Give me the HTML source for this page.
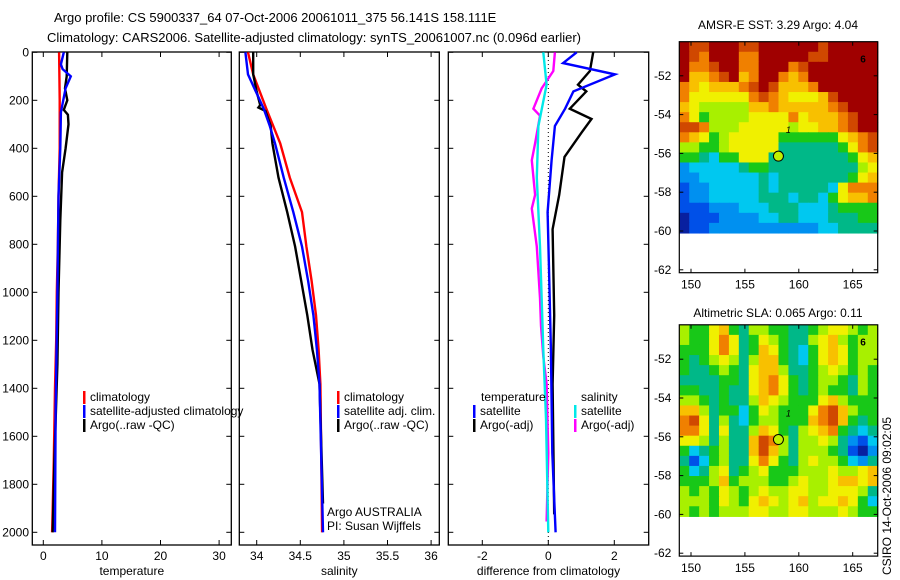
<!DOCTYPE html>
<html><head><meta charset="utf-8">
<style>
html,body{margin:0;padding:0;background:#fff;}
svg{display:block;font-family:"Liberation Sans",sans-serif;}
</style></head>
<body>
<svg id="c" width="900" height="580" viewBox="0 0 900 580" xmlns="http://www.w3.org/2000/svg">
<rect width="900" height="580" fill="#fff"/>
<text x="54" y="22" font-size="13">Argo profile: CS 5900337_64 07-Oct-2006 20061011_375 56.141S 158.111E</text>
<text x="47" y="42" font-size="13">Climatology: CARS2006. Satellite-adjusted climatology: synTS_20061007.nc (0.096d earlier)</text>
<text x="778" y="29" font-size="12" text-anchor="middle">AMSR-E SST: 3.29 Argo: 4.04</text>
<text x="778" y="317" font-size="12" text-anchor="middle">Altimetric SLA: 0.065 Argo: 0.11</text>
<text transform="translate(891,575) rotate(-90)" font-size="12">CSIRO 14-Oct-2006 09:02:05</text>
<g id="plots"></g>
</svg>
<script>
// ---------- data ----------
const depthTicks = [0,200,400,600,800,1000,1200,1400,1600,1800,2000];
const tempTicks = [0,10,20,30];
const salTicks = [34,34.5,35,35.5,36];
const salTickLabels = ["34","34.5","35","35.5","36"];
const diffTicks = [-2,0,2];
// temperature panel
const tClimDepth = [0,200,400,600,800,1000,1200,1400,1700,1900,2000];
const tClimVal   = [2.7,2.8,2.8,2.6,2.5,2.3,2.2,2.0,1.8,1.6,1.5];
const tSatDepth = [0,50,70,100,150,250,400,600,1000,1500,2000];
const tSatVal   = [3.5,3.0,3.3,4.7,3.8,3.0,2.9,2.6,2.4,2.1,2.0];
const tArgoDepth = [0,100,150,200,240,260,300,400,500,700,1000,1300,1700,2000];
const tArgoVal   = [4.1,4.0,3.7,4.1,3.5,4.2,4.3,3.8,3.2,2.9,2.6,2.4,1.9,1.6];
// salinity panel
const sClimDepth = [0,92,235,379,522,666,809,952,1096,1239,1382,2000];
const sClimVal   = [33.90,33.96,34.11,34.27,34.38,34.52,34.57,34.63,34.68,34.71,34.73,34.75];
const sSatDepth = [0,92,235,307,379,522,666,809,952,1096,1239,1382,2000];
const sSatVal   = [33.87,33.90,34.08,34.15,34.21,34.31,34.42,34.52,34.59,34.65,34.69,34.72,34.76];
const sArgoDepth = [0,92,164,220,230,244,307,379,522,666,809,952,1096,1239,1382,1880];
const sArgoVal   = [33.96,33.96,34.00,34.04,34.02,34.10,34.16,34.18,34.25,34.35,34.44,34.51,34.58,34.64,34.72,34.76];
// difference panel
const dTSatDepth = [0,45,92,163,235,307,450,666,952,1239,1669,2000];
const dTSatVal   = [0.86,0.45,2.02,0.76,0.51,0.20,0.10,-0.02,0.03,0.08,0.12,0.22];
const dTArgoDepth = [0,78,135,163,235,278,336,436,594,737,1096,1382,1925];
const dTArgoVal   = [1.36,1.26,0.90,1.15,0.65,1.31,1.00,0.49,0.33,0.13,0.18,0.13,0.18];
const dSSatDepth = [0,135,307,522,809,1239,1526,2000];
const dSSatVal   = [-0.15,-0.05,-0.30,-0.35,-0.25,-0.15,-0.07,0.0];
const dSArgoDepth = [0,78,150,235,264,379,450,594,651,809,1024,1139,1268,1382,1669,1955];
const dSArgoVal   = [0.20,0.15,-0.20,-0.45,-0.25,-0.40,-0.50,-0.40,-0.50,-0.35,-0.25,-0.22,-0.15,-0.05,0.0,-0.05];
// maps
const lonTicks = [150,155,160,165];
const latTicks = [-52,-54,-56,-58,-60,-62];
const argoLon = 158.111, argoLat = -56.141;
const palette = ["#0820a0","#0050e8","#0090f0","#00c8f0","#00b888","#18c818","#a8f000","#f0f000","#f8c000","#f08000","#d04800","#a00000"];
const sstGrid = [
"BAABBBAABBBBBBABBBBB",
"BA9BBB99BBBBBAABBBBB",
"B99ABB99BBB9ABBBBBBB",
"B889AB89BB989BBBBBBB",
"9878889ABA8889BBBBBB",
"97777779A987778ABBBB",
"8766666889888889ABBB",
"97566667777978889ABB",
"AA966677777677889ABB",
"9875677777555555789A",
"6655677777444444579A",
"55435577744444444578",
"23333345544444444467",
"22333333434444444578",
"12233333434444437999",
"12233333444344357889",
"11122233344433345555",
"01112222334433344455",
"01122222222222334444"];
const slaGrid = [
"65578546655445677656",
"65579745765446786566",
"55579745875435787566",
"54567646885435787566",
"54456547886445676565",
"44445547897545665465",
"55445447897545655465",
"66545446876555786555",
"886455357655579A8655",
"9A7464356655589A8545",
"99747446875467895434",
"77646448A96466764213",
"53456448A86466654102",
"41356447975467665324",
"53467456755566676678",
"55568566655676678878",
"65657656766776677764",
"66657657876786778753",
"65656667766776667655"];

// ---------- helpers ----------
const NS = "http://www.w3.org/2000/svg";
const root = document.getElementById('plots');
function mk(tag, attrs, parent){
  const e = document.createElementNS(NS, tag);
  for (const k in attrs) e.setAttribute(k, attrs[k]);
  (parent||root).appendChild(e);
  return e;
}
const Y0 = 52.3, YPX = 0.24; // depth axis
function yDepth(d){ return Y0 + d*YPX; }
const BOX_TOP = 52, BOX_BOT = 545;

function profilePanel(name, left, right, xOf, ticks, labels, xlabel){
  const g = mk('g', {});
  
  
  const box = mk('rect', {x:left, y:BOX_TOP, width:right-left, height:BOX_BOT-BOX_TOP, fill:'none', stroke:'#000', 'stroke-width':1.3}, g);
  
  
  depthTicks.forEach(d => {
    const y = yDepth(d);
    mk('line', {x1:left, x2:left+5, y1:y, y2:y, stroke:'#000'}, g);
    mk('line', {x1:right-5, x2:right, y1:y, y2:y, stroke:'#000'}, g);
  });
  ticks.forEach((v,i) => {
    const x = xOf(v);
    mk('line', {x1:x, x2:x, y1:BOX_TOP, y2:BOX_TOP+5, stroke:'#000'}, g);
    mk('line', {x1:x, x2:x, y1:BOX_BOT-5, y2:BOX_BOT, stroke:'#000'}, g);
    const t = mk('text', {x:x, y:560, 'font-size':12, 'text-anchor':'middle'}, g);
    t.textContent = labels[i];
    
    
  });
  const xl = mk('text', {x:(left+right)/2, y:575, 'font-size':12, 'text-anchor':'middle'}, g);
  xl.textContent = xlabel;
  
  
  return g;
}
function series(g, name, depths, vals, xOf, color){
  let pts = [];
  for (let i=0;i<depths.length;i++){
    pts.push(xOf(vals[i]).toFixed(1)+','+yDepth(depths[i]).toFixed(1));
  }
  const p = mk('polyline', {points:pts.join(' '), fill:'none', stroke:color, 'stroke-width':2.4, 'stroke-linejoin':'miter'}, g);
  
  
}
function legend(g, name, x, y, color, label){
  mk('rect', {x:x, y:y-10, width:2.5, height:13, fill:color}, g);
  const t = mk('text', {x:x+7, y:y, 'font-size':12}, g);
  t.textContent = label;
  
  
}

// depth axis labels (left of first panel)
depthTicks.forEach(d => {
  const t = mk('text', {x:29, y:yDepth(d)+4, 'font-size':12, 'text-anchor':'end'});
  t.textContent = String(d);
  
  
});

// ---- temperature ----
const xT = v => 43.3 + 5.86*v;
const gT = profilePanel('temperature-panel', 32.3, 231.3, xT, tempTicks, tempTicks.map(String), 'temperature');
series(gT, 'temp-climatology-line', tClimDepth, tClimVal, xT, '#ff0000');
series(gT, 'temp-argo-line', tArgoDepth, tArgoVal, xT, '#000000');
series(gT, 'temp-satellite-line', tSatDepth, tSatVal, xT, '#0000ff');
legend(gT, 'legend-climatology', 83, 401, '#ff0000', 'climatology');
legend(gT, 'legend-satellite-adjusted', 83, 415, '#0000ff', 'satellite-adjusted climatology');
legend(gT, 'legend-argo', 83, 429, '#000000', 'Argo(..raw -QC)');

// ---- salinity ----
const xS = v => 256.7 + 87.2*(v-34);
const gS = profilePanel('salinity-panel', 239.3, 439.3, xS, salTicks, salTickLabels, 'salinity');
series(gS, 'sal-climatology-line', sClimDepth, sClimVal, xS, '#ff0000');
series(gS, 'sal-argo-line', sArgoDepth, sArgoVal, xS, '#000000');
series(gS, 'sal-satellite-line', sSatDepth, sSatVal, xS, '#0000ff');
legend(gS, 'legend-sal-climatology', 337, 401, '#ff0000', 'climatology');
legend(gS, 'legend-sal-satellite', 337, 415, '#0000ff', 'satellite adj. clim.');
legend(gS, 'legend-sal-argo', 337, 429, '#000000', 'Argo(..raw -QC)');
const a1 = mk('text', {x:327, y:516, 'font-size':12}, gS); a1.textContent = 'Argo AUSTRALIA';


const a2 = mk('text', {x:327, y:530, 'font-size':12}, gS); a2.textContent = 'PI: Susan Wijffels';



// ---- difference ----
const xD = v => 548.3 + 33*v;
const gD = profilePanel('difference-panel', 448.3, 648.7, xD, diffTicks, diffTicks.map(String), 'difference from climatology');
mk('line', {x1:xD(0), x2:xD(0), y1:BOX_TOP, y2:BOX_BOT, stroke:'#000', 'stroke-width':1, 'stroke-dasharray':'1,3'}, gD);
series(gD, 'diff-temp-argo-line', dTArgoDepth, dTArgoVal, xD, '#000000');
series(gD, 'diff-temp-satellite-line', dTSatDepth, dTSatVal, xD, '#0000ff');
series(gD, 'diff-sal-argo-line', dSArgoDepth, dSArgoVal, xD, '#ff00ff');
series(gD, 'diff-sal-satellite-line', dSSatDepth, dSSatVal, xD, '#00e8e8');
const lt = mk('text', {x:481, y:401, 'font-size':12}, gD); lt.textContent = 'temperature';


const ls = mk('text', {x:581, y:401, 'font-size':12}, gD); ls.textContent = 'salinity';


legend(gD, 'legend-temp-satellite', 473, 415, '#0000ff', 'satellite');
legend(gD, 'legend-temp-argo', 473, 429, '#000000', 'Argo(-adj)');
legend(gD, 'legend-sal-satellite', 574, 415, '#00e8e8', 'satellite');
legend(gD, 'legend-sal-argo', 574, 429, '#ff00ff', 'Argo(-adj)');

// ---- maps ----
function mapPanel(name, grid, top, lat52y){
  const left = 679.3, right = 877.7;
  const pxLon = 10.78, pxLat = (lat52y===75.8)?19.4:19.4;
  const xL = lon => 691 + (lon-150)*pxLon;
  const yL = lat => lat52y + (-52-lat)*pxLat;
  const g = mk('g', {});
  
  
  const dataBottom = yL(-60.1);
  const rows = grid.length, cols = grid[0].length;
  const cw = (right-left)/cols, ch = (dataBottom-top)/rows;
  for (let r=0;r<rows;r++){
    for (let c=0;c<cols;c++){
      const idx = parseInt(grid[r][c], 16);
      const cell = mk('rect', {x:(left+c*cw).toFixed(2), y:(top+r*ch).toFixed(2), width:(cw+0.6).toFixed(2), height:(ch+0.6).toFixed(2), fill:palette[idx]}, g);
      
      
    }
  }
  const bottom = yL(-62.15);
  const fr = mk('rect', {x:left, y:top, width:right-left, height:bottom-top, fill:'none', stroke:'#000', 'stroke-width':1.2}, g);
  
  
  lonTicks.forEach(lon => {
    const x = xL(lon);
    mk('line', {x1:x, x2:x, y1:top, y2:top+4, stroke:'#000'}, g);
    mk('line', {x1:x, x2:x, y1:bottom-4, y2:bottom, stroke:'#000'}, g);
    const t = mk('text', {x:x, y:bottom+16, 'font-size':12, 'text-anchor':'middle'}, g);
    t.textContent = String(lon);
    
    
  });
  latTicks.forEach(lat => {
    const y = yL(lat);
    mk('line', {x1:left, x2:left+4, y1:y, y2:y, stroke:'#000'}, g);
    mk('line', {x1:right-4, x2:right, y1:y, y2:y, stroke:'#000'}, g);
    const t = mk('text', {x:left-8, y:y+4, 'font-size':12, 'text-anchor':'end'}, g);
    t.textContent = String(lat);
    
    
  });
  const one = mk('text', {x:xL(158.8), y:yL(-54.8)+3, 'font-size':9, 'font-style':'italic'}, g);
  one.textContent = '1';
  
  
  const six = mk('text', {x:xL(165.7), y:yL(-51.1)+4, 'font-size':10, 'font-weight':'bold'}, g);
  six.textContent = '6';
  
  
  const dot = mk('circle', {cx:xL(argoLon), cy:yL(argoLat), r:5, fill:'#c0f000', stroke:'#000', 'stroke-width':1}, g);
  
  
}
mapPanel('sst-map', sstGrid, 41.7, 75.8);
mapPanel('sla-map', slaGrid, 324.8, 359.2);
</script>
</body></html>
